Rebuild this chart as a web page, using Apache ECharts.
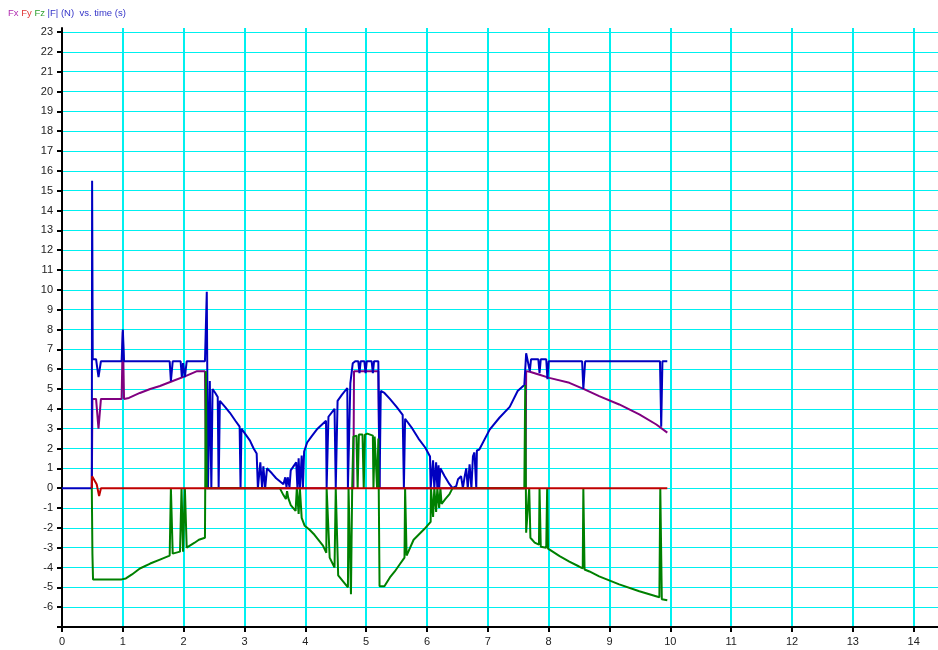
<!DOCTYPE html>
<html>
<head>
<meta charset="utf-8">
<script src="https://cdn.jsdelivr.net/npm/echarts@6/dist/echarts.min.js"></script>
<style>
  html, body { margin: 0; padding: 0; background: #fff; }
  #chart { width: 938px; height: 650px; }
</style>
</head>
<body>
<div id="chart"></div>
<script>
// [time (s), force (N)]
const fxData = [
  [0.49, 0], [0.5, 4.5], [0.56, 4.5], [0.6, 3.0], [0.64, 4.5], [0.98, 4.5], [1.0, 7.9], [1.02, 4.5],
  [1.1, 4.55], [1.28, 4.8], [1.45, 5.0], [1.61, 5.15], [1.82, 5.4], [2.03, 5.65], [2.22, 5.9],
  [2.35, 5.9], [2.37, 0], [4.79, 0], [4.8, 5.9], [5.2, 5.9], [5.22, 0], [7.62, 0], [7.63, 5.9],
  [7.69, 5.87], [7.85, 5.72], [8.01, 5.56], [8.34, 5.31], [8.59, 4.98], [8.83, 4.64], [9.16, 4.22],
  [9.49, 3.72], [9.77, 3.21], [9.95, 2.8]
];
const fyData = [
  [0.49, 0], [0.495, 0.6], [0.57, 0.2], [0.61, -0.4], [0.64, 0], [9.95, 0]
];
const fzData = [
  [0.49, 0], [0.5, -3.3], [0.51, -4.6], [0.98, -4.6], [1.05, -4.55], [1.15, -4.35], [1.28, -4.05],
  [1.45, -3.8], [1.61, -3.6], [1.77, -3.4], [1.79, 0], [1.82, -3.3], [1.94, -3.2], [1.965, 0],
  [1.99, -3.2], [2.02, 0], [2.05, -3.0], [2.18, -2.75], [2.25, -2.6], [2.35, -2.5], [2.365, 5.9],
  [2.38, 0], [3.58, 0], [3.64, -0.35], [3.68, -0.55], [3.7, -0.15], [3.72, -0.5], [3.76, -0.85],
  [3.84, -1.15], [3.86, 0], [3.89, -1.3], [3.91, 0], [3.94, -1.5], [3.99, -1.9], [4.07, -2.1],
  [4.15, -2.35], [4.29, -2.9], [4.345, -3.26], [4.35, 0], [4.4, -3.5], [4.48, -4.0], [4.5, 0],
  [4.54, -4.4], [4.56, -4.5], [4.7, -5.0], [4.71, 0], [4.75, -5.35], [4.77, 0], [4.79, 2.6],
  [4.84, 2.65], [4.86, 0], [4.88, 2.7], [4.94, 2.7], [4.96, 0], [4.98, 2.7], [5.02, 2.75],
  [5.04, 2.7], [5.11, 2.65], [5.12, 0], [5.14, 2.6], [5.17, 2.55], [5.18, 0], [5.2, 2.5],
  [5.22, -4.95], [5.3, -4.95], [5.39, -4.5], [5.47, -4.2], [5.55, -3.85], [5.63, -3.5], [5.64, 0],
  [5.665, -3.4], [5.78, -2.6], [5.96, -2.05], [6.06, -1.7], [6.065, 0], [6.1, -1.45], [6.12, 0],
  [6.15, -1.2], [6.17, 0], [6.2, -1.0], [6.22, 0], [6.24, -0.8], [6.3, -0.55], [6.37, -0.3],
  [6.42, 0], [7.6, 0], [7.615, 5.2], [7.63, -2.25], [7.66, -2.35], [7.68, 0], [7.7, -2.5],
  [7.77, -2.75], [7.84, -2.85], [7.85, 0], [7.87, -2.95], [7.96, -3.0], [7.975, 0], [7.99, -3.05],
  [8.01, -3.1], [8.18, -3.43], [8.34, -3.7], [8.5, -3.95], [8.56, -4.05], [8.57, 0], [8.59, -4.1],
  [8.67, -4.2], [8.83, -4.45], [9.16, -4.85], [9.49, -5.2], [9.82, -5.5], [9.835, 0], [9.86, -5.6],
  [9.95, -5.65]
];
const fMagData = [
  [0, 0], [0.49, 0], [0.495, 15.5], [0.505, 6.5], [0.56, 6.5], [0.6, 5.6], [0.64, 6.4], [0.98, 6.4],
  [1.0, 8.0], [1.02, 6.4], [1.77, 6.4], [1.79, 5.4], [1.82, 6.4], [1.95, 6.4], [1.97, 5.6],
  [1.99, 6.3], [2.02, 5.6], [2.05, 6.4], [2.35, 6.4], [2.38, 9.9], [2.4, 0], [2.43, 5.4],
  [2.455, 0], [2.475, 5.0], [2.52, 4.8], [2.56, 4.6], [2.575, 0], [2.595, 4.4], [2.68, 4.1],
  [2.76, 3.8], [2.85, 3.4], [2.92, 3.1], [2.935, 0], [2.95, 3.0], [3.02, 2.7], [3.09, 2.4],
  [3.15, 2.0], [3.2, 1.75], [3.22, 0], [3.26, 1.3], [3.29, 0], [3.31, 1.1], [3.34, 0], [3.37, 1.0],
  [3.45, 0.75], [3.52, 0.5], [3.58, 0.35], [3.64, 0.2], [3.67, 0.55], [3.69, 0.05], [3.71, 0.55],
  [3.74, 0.05], [3.76, 0.9], [3.85, 1.3], [3.87, 0], [3.89, 1.5], [3.91, 0], [3.94, 1.65],
  [3.96, 0], [3.98, 1.85], [4.03, 2.3], [4.1, 2.6], [4.2, 3.0], [4.34, 3.4], [4.35, 0], [4.38, 3.6],
  [4.48, 4.0], [4.5, 0], [4.53, 4.4], [4.6, 4.7], [4.69, 5.05], [4.7, 0], [4.74, 5.3], [4.78, 6.3],
  [4.82, 6.4], [4.87, 6.4], [4.89, 5.8], [4.91, 6.4], [4.97, 6.4], [4.99, 5.8], [5.01, 6.4],
  [5.09, 6.4], [5.11, 5.8], [5.13, 6.4], [5.2, 6.4], [5.22, 0], [5.24, 4.9], [5.3, 4.8],
  [5.39, 4.5], [5.5, 4.1], [5.6, 3.7], [5.62, 0], [5.64, 3.5], [5.76, 3.0], [5.86, 2.5],
  [5.97, 2.05], [6.05, 1.6], [6.06, 0], [6.1, 1.4], [6.12, 0], [6.15, 1.3], [6.17, 0], [6.19, 1.15],
  [6.2, 0], [6.22, 1.0], [6.29, 0.6], [6.37, 0.2], [6.42, 0.0], [6.48, 0.1], [6.51, 0.45],
  [6.56, 0.6], [6.59, 0], [6.62, 0.6], [6.645, 1.0], [6.67, 0], [6.7, 1.2], [6.73, 0], [6.755, 1.6],
  [6.78, 1.8], [6.81, 0], [6.82, 1.9], [6.86, 1.95], [7.03, 2.95], [7.19, 3.55], [7.36, 4.1],
  [7.49, 4.9], [7.6, 5.2], [7.63, 6.8], [7.65, 6.5], [7.67, 6.5], [7.69, 5.9], [7.71, 6.5],
  [7.83, 6.5], [7.85, 5.8], [7.87, 6.5], [7.96, 6.5], [7.98, 5.5], [8.0, 6.4], [8.55, 6.4],
  [8.57, 5.0], [8.6, 6.4], [9.83, 6.4], [9.85, 3.1], [9.87, 6.4], [9.95, 6.4]
];
const xTicks = [0, 14.4, 1];
const yTicks = [-7, 23.2, 1];

const gridCyan = '#00f0f0';
const labelFont = { color: '#222', fontSize: 11, fontFamily: 'Liberation Sans' };
const chart = echarts.init(document.getElementById('chart'), null, { renderer: 'canvas' });

chart.setOption({
  animation: false,
  backgroundColor: '#fff',
  title: {
    text: '{x|Fx} {y|Fy} {z|Fz} {f||F| (N)  vs. time (s)}',
    left: 3, top: 3,
    textStyle: {
      fontFamily: 'Liberation Sans',
      fontSize: 9.5,
      fontWeight: 'normal',
      rich: {
        x: { color: '#b02cb0', fontSize: 9.5, fontFamily: 'Liberation Sans' },
        y: { color: '#e03838', fontSize: 9.5, fontFamily: 'Liberation Sans' },
        z: { color: '#2ea02e', fontSize: 9.5, fontFamily: 'Liberation Sans' },
        f: { color: '#3434c8', fontSize: 9.5, fontFamily: 'Liberation Sans' }
      }
    }
  },
  grid: { left: 62, right: 0, top: 28, bottom: 23, outerBoundsMode: 'none', containLabel: false },
  xAxis: {
    type: 'value',
    min: xTicks[0], max: xTicks[1], interval: xTicks[2],
    axisLine: { onZero: false, lineStyle: { color: '#000', width: 2 } },
    axisTick: { show: true, length: 5, lineStyle: { color: '#000', width: 2 } },
    axisLabel: { ...labelFont, margin: 9, showMaxLabel: false },
    splitLine: { show: true, showMinLine: false, showMaxLine: false, lineStyle: { color: gridCyan, width: 2 } }
  },
  yAxis: {
    type: 'value',
    min: yTicks[0], max: yTicks[1], interval: yTicks[2],
    axisLine: { onZero: false, lineStyle: { color: '#000', width: 2 } },
    axisTick: { show: true, length: 5, lineStyle: { color: '#000', width: 2 } },
    axisLabel: {
      ...labelFont, margin: 9, showMaxLabel: false,
      formatter: v => (v <= -7 ? '' : String(v))
    },
    splitLine: { show: true, showMinLine: false, showMaxLine: false, lineStyle: { color: gridCyan, width: 1.2 } }
  },
  series: [
    { name: 'Fx', type: 'line', data: fxData, showSymbol: false, lineStyle: { color: '#800080', width: 2 } },
    { name: '|F|', type: 'line', data: fMagData, showSymbol: false, lineStyle: { color: '#0000c0', width: 2 } },
    { name: 'Fz', type: 'line', data: fzData, showSymbol: false, lineStyle: { color: '#008000', width: 2 } },
    { name: 'Fy', type: 'line', data: fyData, showSymbol: false, lineStyle: { color: '#c00000', width: 2 } }
  ]
});
</script>
</body>
</html>
